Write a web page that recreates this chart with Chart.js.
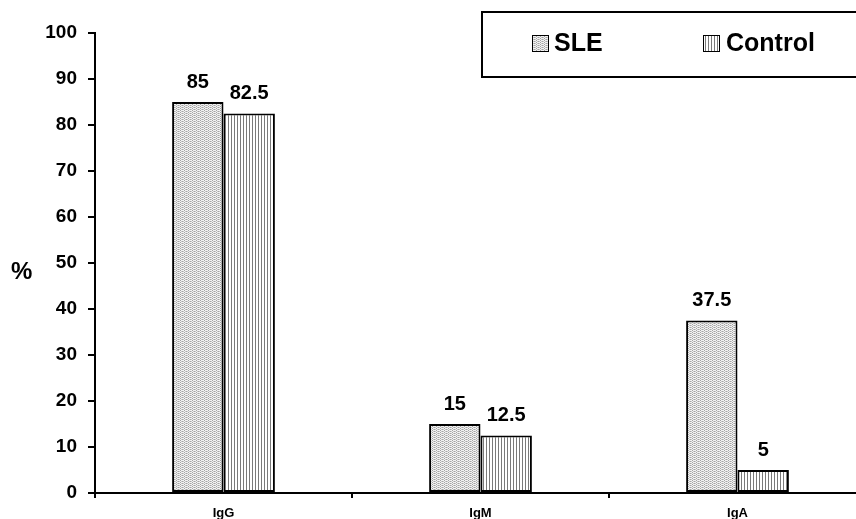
<!DOCTYPE html>
<html>
<head>
<meta charset="utf-8">
<script src="https://cdn.jsdelivr.net/npm/chart.js@4.4.1/dist/chart.umd.min.js"></script>
<style>
    html, body { margin: 0; padding: 0; background: #fff; overflow: hidden; }
    #wrap { position: relative; width: 856px; height: 519px; overflow: hidden; }
    #chart { position: absolute; left: 0; top: 0; }
    #yTitle { position: absolute; left: 11px; top: 257px; font: bold 24px "Liberation Sans", Arial, sans-serif; color: #000; }
</style>
</head>
<body>
<div id="wrap">
    <canvas id="chart" width="870" height="530"></canvas>
    <div id="yTitle">%</div>
</div>
<script>
// 数据
const categories = ['IgG', 'IgM', 'IgA'];
const seriesNames = ['SLE', 'Control'];
const sleValues = [85, 15, 37.5];
const controlValues = [82.5, 12.5, 5];
const yTicks = [0, 10, 20, 30, 40, 50, 60, 70, 80, 90, 100];

const FONT = '"Liberation Sans", Arial, sans-serif';

// 点状填充 (SLE)
function dotPattern() {
    const c = document.createElement('canvas');
    c.width = 4; c.height = 4;
    const g = c.getContext('2d');
    g.fillStyle = '#f2f2f2';
    g.fillRect(0, 0, 4, 4);
    g.fillStyle = '#a4a4a4';
    [[0, 0], [2, 1], [0, 2], [2, 3]].forEach(([x, y]) => g.fillRect(x, y, 1, 1));
    g.fillStyle = '#c8c8c8';
    [[1, 1], [3, 3], [3, 1], [1, 3]].forEach(([x, y]) => g.fillRect(x, y, 1, 1));
    return g.createPattern(c, 'repeat');
}

// 竖条纹填充 (Control)
function stripePattern() {
    const c = document.createElement('canvas');
    c.width = 3; c.height = 3;
    const g = c.getContext('2d');
    g.fillStyle = '#ffffff';
    g.fillRect(0, 0, 3, 3);
    g.fillStyle = '#7a7a7a';
    g.fillRect(0, 0, 1, 3);
    return g.createPattern(c, 'repeat');
}

const sleFill = dotPattern();
const controlFill = stripePattern();

// 柱顶数值
const valueLabels = {
    id: 'valueLabels',
    afterDatasetsDraw(chart) {
        const ctx = chart.ctx;
        ctx.save();
        ctx.font = 'bold 20px ' + FONT;
        ctx.fillStyle = '#000';
        ctx.textAlign = 'center';
        ctx.textBaseline = 'bottom';
        chart.data.datasets.forEach((ds, i) => {
            chart.getDatasetMeta(i).data.forEach((bar, j) => {
                ctx.fillText(String(ds.data[j]), bar.x, bar.y - 10);
            });
        });
        ctx.restore();
    }
};

// 图例框
const boxLegend = {
    id: 'boxLegend',
    afterDraw(chart) {
        const ctx = chart.ctx;
        ctx.save();
        ctx.lineWidth = 2;
        ctx.strokeStyle = '#000';
        ctx.strokeRect(482, 12, 420, 65);
        const items = [
            { x: 532, fill: sleFill, text: seriesNames[0], tx: 554 },
            { x: 703, fill: controlFill, text: seriesNames[1], tx: 726 }
        ];
        ctx.font = 'bold 25px ' + FONT;
        ctx.textBaseline = 'middle';
        ctx.textAlign = 'left';
        items.forEach(it => {
            ctx.fillStyle = it.fill;
            ctx.fillRect(it.x, 35, 16, 16);
            ctx.lineWidth = 1;
            ctx.strokeRect(it.x + 0.5, 35.5, 16, 16);
            ctx.fillStyle = '#000';
            ctx.fillText(it.text, it.tx, 44);
        });
        ctx.restore();
    }
};

new Chart(document.getElementById('chart'), {
    type: 'bar',
    data: {
        labels: categories,
        datasets: [
            { label: seriesNames[0], data: sleValues, backgroundColor: sleFill, borderColor: '#000', borderWidth: 2, borderSkipped: false },
            { label: seriesNames[1], data: controlValues, backgroundColor: controlFill, borderColor: '#000', borderWidth: 2, borderSkipped: false }
        ]
    },
    options: {
        responsive: false,
        animation: false,
        devicePixelRatio: 1,
        layout: { padding: { top: 33, right: 4, left: 0, bottom: 0 } },
        datasets: { bar: { categoryPercentage: 0.4, barPercentage: 1 } },
        scales: {
            x: {
                offset: true,
                grid: { offset: true, drawOnChartArea: false, tickLength: 5, color: '#000', lineWidth: 2 },
                border: { color: '#000', width: 2 },
                ticks: { color: '#000', font: { family: FONT, size: 13, weight: 'bold' }, padding: 8 },
                afterFit(scale) { scale.height = 37; }
            },
            y: {
                min: 0,
                max: 100,
                afterBuildTicks(scale) { scale.ticks = yTicks.map(v => ({ value: v })); },
                grid: { drawOnChartArea: false, tickLength: 7, color: '#000', lineWidth: 2 },
                border: { color: '#000', width: 2 },
                ticks: { color: '#000', font: { family: FONT, size: 19, weight: 'bold' }, padding: 11 },
                afterFit(scale) { scale.width = 95; }
            }
        },
        plugins: {
            legend: { display: false },
            tooltip: { enabled: false }
        }
    },
    plugins: [valueLabels, boxLegend]
});
</script>
</body>
</html>
